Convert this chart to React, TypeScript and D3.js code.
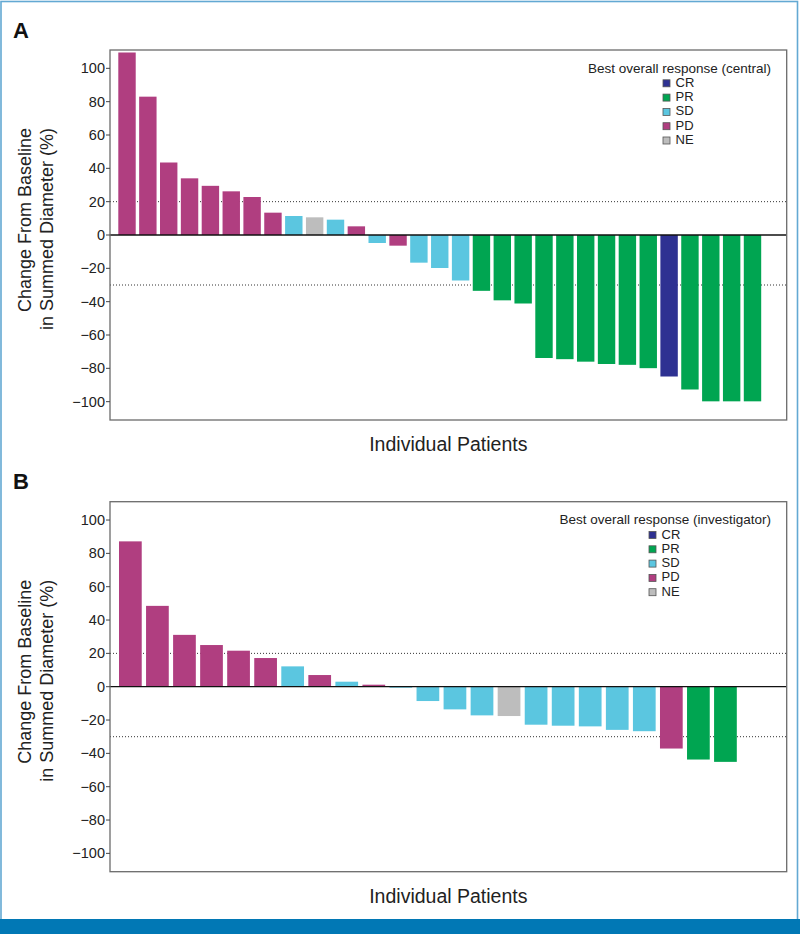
import React from "react";
import * as d3 from "d3";

// ---------- data ----------
const responseCategories = ["CR", "PR", "SD", "PD", "NE"];
const responseColors: Record<string, string> = {
  CR: "#2E3192",
  PR: "#00A551",
  SD: "#5BC6E0",
  PD: "#B03E80",
  NE: "#BDBDBD",
};

// Panel A (central review)
const valuesA = [
  109.5, 83, 43.5, 34, 29.5, 26.2, 22.8, 13.4, 11.4, 10.6, 9.2, 5.2,
  -4.8, -6.4, -16.6, -19.8, -27.3, -33.5, -39.2, -41.1, -73.8, -74.5,
  -76, -77.4, -77.9, -79.9, -84.9, -92.7, -99.8, -99.8, -99.8,
];
const responsesA = [
  "PD", "PD", "PD", "PD", "PD", "PD", "PD", "PD", "SD", "NE", "SD", "PD",
  "SD", "PD", "SD", "SD", "SD", "PR", "PR", "PR", "PR", "PR",
  "PR", "PR", "PR", "PR", "CR", "PR", "PR", "PR", "PR",
];

// Panel B (investigator)
const valuesB = [
  87.2, 48.5, 31.1, 25.0, 21.6, 17.2, 12.2, 7.0, 3.0, 1.2, -0.6,
  -8.6, -13.6, -17.2, -17.6, -22.8, -23.4, -23.8, -25.9, -26.7,
  -37.1, -43.7, -45.1,
];
const responsesB = [
  "PD", "PD", "PD", "PD", "PD", "PD", "SD", "PD", "SD", "PD", "SD",
  "SD", "SD", "SD", "NE", "SD", "SD", "SD", "SD", "SD",
  "PD", "PR", "PR",
];

const yTicks = [100, 80, 60, 40, 20, 0, -20, -40, -60, -80, -100];
const thresholdLines = [20, -30];
const yDomain = [-111, 111];

const legendTitleA = "Best overall response (central)";
const legendTitleB = "Best overall response (investigator)";
const yTitleLines = ["Change From Baseline", "in Summed Diameter (%)"];
const xTitle = "Individual Patients";

// ---------- layout ----------
const FONT = "'Liberation Sans', Arial, Helvetica, sans-serif";

interface PanelProps {
  label: string;
  values: number[];
  responses: string[];
  legendTitle: string;
  top: number;
  bottom: number;
  left: number;
  right: number;
  barStart: number;
  barEnd: number;
  barPad: number;
  legendItemX: number;
}

function Panel(p: PanelProps) {
  const y = d3.scaleLinear().domain(yDomain).range([p.bottom, p.top]);
  const x = d3
    .scaleBand<number>()
    .domain(d3.range(p.values.length))
    .range([p.barStart, p.barEnd])
    .paddingInner(p.barPad)
    .paddingOuter(0);
  const y0 = y(0);
  const legendTitleY = p.top + 22.7;
  return (
    <g>
      <text
        x={13}
        y={p.top - 12.3}
        fontFamily={FONT}
        fontWeight="bold"
        fontSize={22}
        fill="#111"
      >
        {p.label}
      </text>
      {/* threshold dotted lines */}
      {thresholdLines.map((t) => (
        <line
          key={t}
          x1={p.left}
          x2={p.right}
          y1={y(t)}
          y2={y(t)}
          stroke="#333"
          strokeWidth={1}
          strokeDasharray="1,2"
        />
      ))}
      {/* bars */}
      {p.values.map((v, i) => (
        <rect
          key={i}
          x={x(i)}
          width={x.bandwidth()}
          y={Math.min(y(v), y0)}
          height={Math.abs(y(v) - y0)}
          fill={responseColors[p.responses[i]]}
        />
      ))}
      {/* zero line */}
      <line x1={p.left} x2={p.right} y1={y0} y2={y0} stroke="#111" strokeWidth={1.3} />
      {/* plot frame */}
      <rect
        x={p.left}
        y={p.top}
        width={p.right - p.left}
        height={p.bottom - p.top}
        fill="none"
        stroke="#6b6b6b"
        strokeWidth={1.3}
      />
      {/* y ticks */}
      {yTicks.map((t) => (
        <g key={t} transform={`translate(${p.left},${y(t)})`}>
          <line x1={-4} x2={0} stroke="#444" strokeWidth={1} />
          <text
            x={-5}
            dy="0.35em"
            textAnchor="end"
            fontFamily={FONT}
            fontSize={14.5}
            fill="#222"
          >
            {d3.format("")(t)}
          </text>
        </g>
      ))}
      {/* y title */}
      {yTitleLines.map((line, i) => (
        <text
          key={i}
          transform={`translate(${31 + i * 21.5},${p.top + 78}) rotate(-90)`}
          textAnchor="end"
          fontFamily={FONT}
          fontSize={18}
          fill="#222"
        >
          {line}
        </text>
      ))}
      {/* x title */}
      <text
        x={(p.left + p.right) / 2}
        y={p.bottom + 31.3}
        textAnchor="middle"
        fontFamily={FONT}
        fontSize={19.5}
        fill="#222"
      >
        {xTitle}
      </text>
      {/* legend */}
      <text
        x={771}
        y={legendTitleY}
        textAnchor="end"
        fontFamily={FONT}
        fontSize={13.5}
        fill="#222"
      >
        {p.legendTitle}
      </text>
      {responseCategories.map((c, i) => {
        const by = legendTitleY + 14.1 + i * 14.3;
        return (
          <g key={c}>
            <rect
              x={p.legendItemX}
              y={by - 7}
              width={7}
              height={7}
              fill={responseColors[c]}
              stroke="#555"
              strokeWidth={0.8}
            />
            <text
              x={p.legendItemX + 12.5}
              y={by}
              fontFamily={FONT}
              fontSize={13}
              fill="#222"
            >
              {c}
            </text>
          </g>
        );
      })}
    </g>
  );
}

export default function App() {
  return (
    <svg
      width={800}
      height={934}
      style={{ position: "absolute", left: 0, top: 0, background: "#fff" }}
    >
      <rect x={0} y={0} width={800} height={934} fill="#fff" />
      {/* outer frame */}
      <rect
        x={1}
        y={1.5}
        width={796.5}
        height={930}
        fill="none"
        stroke="#63A9D3"
        strokeWidth={1.6}
      />
      <rect x={0} y={919} width={800} height={15} fill="#0178B5" />
      <Panel
        label="A"
        values={valuesA}
        responses={responsesA}
        legendTitle={legendTitleA}
        top={50}
        bottom={420}
        left={110}
        right={786.7}
        barStart={118.3}
        barEnd={761.2}
        barPad={0.165}
        legendItemX={663}
      />
      <Panel
        label="B"
        values={valuesB}
        responses={responsesB}
        legendTitle={legendTitleB}
        top={501.7}
        bottom={871.7}
        left={110}
        right={786.7}
        barStart={119}
        barEnd={736.8}
        barPad={0.16}
        legendItemX={649}
      />
    </svg>
  );
}
